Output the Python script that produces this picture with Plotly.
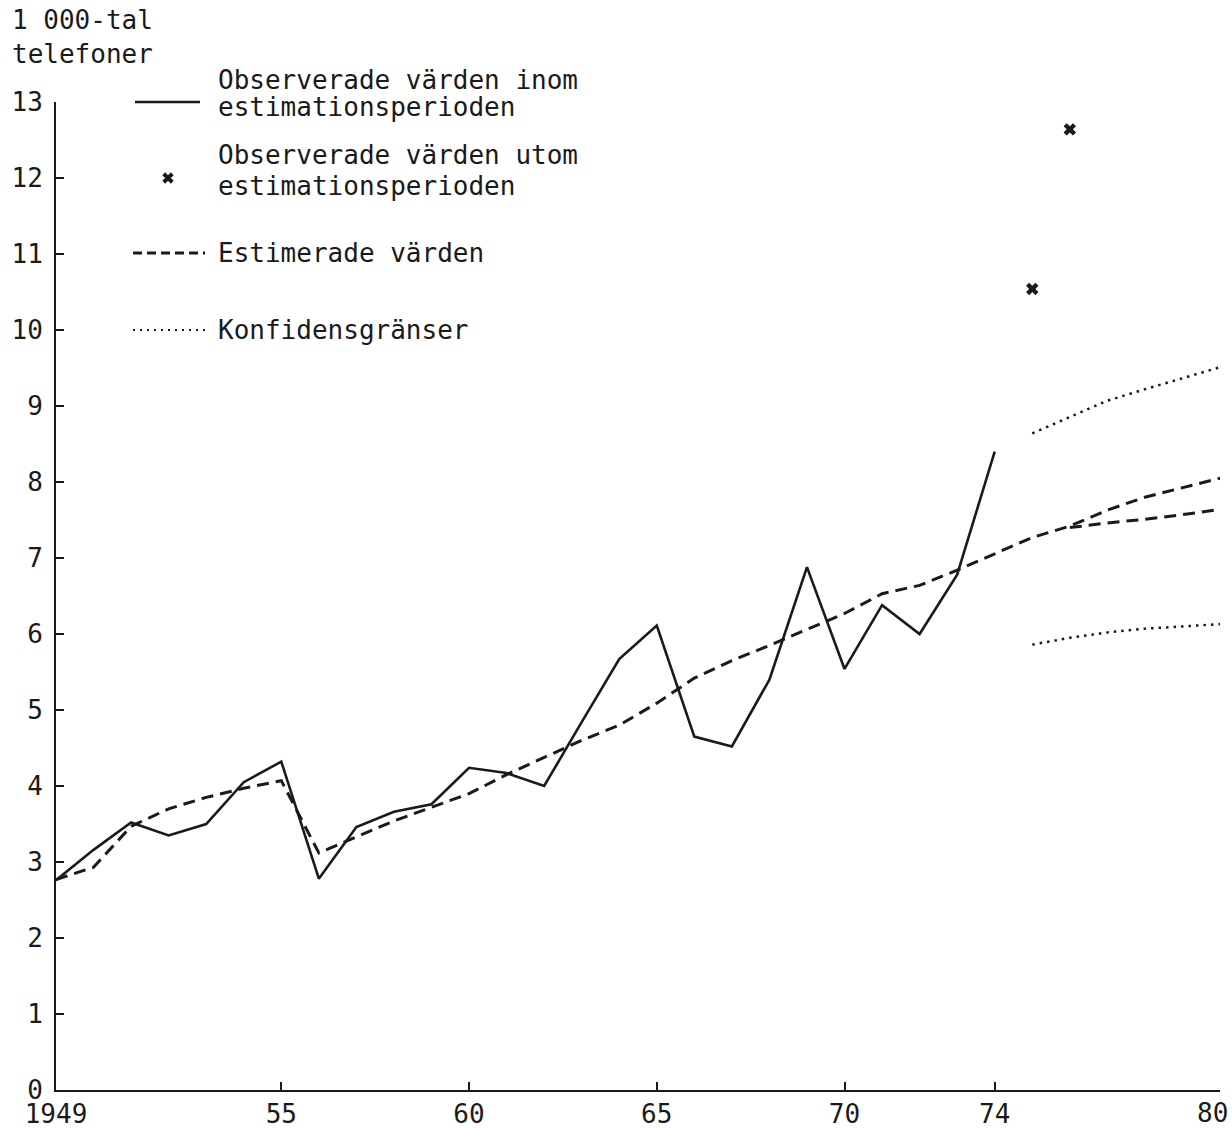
import plotly.graph_objects as go

# ---- data ----
obs_years = list(range(1949, 1975))
obs_values = [2.76, 3.16, 3.52, 3.35, 3.50, 4.05, 4.32, 2.78, 3.46, 3.66,
              3.76, 4.24, 4.17, 4.00, 4.84, 5.67, 6.11, 4.65, 4.52, 5.40,
              6.88, 5.54, 6.38, 6.00, 6.78, 8.40]

out_years = [1975, 1976]
out_values = [10.54, 12.64]

est_years = list(range(1949, 1981))
est_values = [2.77, 2.93, 3.47, 3.70, 3.85, 3.97, 4.07, 3.12, 3.33, 3.54,
              3.72, 3.90, 4.15, 4.38, 4.60, 4.80, 5.09, 5.42, 5.65, 5.85,
              6.06, 6.27, 6.53, 6.64, 6.84, 7.06, 7.27, 7.42, 7.63, 7.80,
              7.93, 8.05]

est_alt_years = [1976, 1977, 1978, 1979, 1980]
est_alt_values = [7.40, 7.46, 7.51, 7.57, 7.64]

conf_years = [1975, 1976, 1977, 1978, 1979, 1980]
conf_upper = [8.64, 8.86, 9.07, 9.22, 9.36, 9.51]
conf_lower = [5.86, 5.95, 6.02, 6.07, 6.10, 6.13]

x_tickvals = [1949, 1955, 1960, 1965, 1970, 1974, 1980]
x_ticktext = ["1949", "55", "60", "65", "70", "74", "80"]
y_tickvals = list(range(0, 14))

legend_labels = [
    ["Observerade värden inom", "estimationsperioden"],
    ["Observerade värden utom", "estimationsperioden"],
    ["Estimerade värden"],
    ["Konfidensgränser"],
]
y_title_lines = ["1 000-tal", "telefoner"]

FONT = "DejaVu Sans Mono"
FS = 26
INK = "#1a1a1a"

W, H = 1232, 1128
ML, MR, MT, MB = 56, 12, 102, 38
PW, PH = W - ML - MR, H - MT - MB


def px(x):
    return (x - ML) / PW


def py(y):
    return (H - MB - y) / PH


fig = go.Figure()

DASH = "12px,7px"
DOT = "2.5px,5px"

fig.add_trace(go.Scatter(x=est_years, y=est_values, mode="lines",
                         line=dict(color=INK, width=3, dash=DASH),
                         cliponaxis=False, showlegend=False))
fig.add_trace(go.Scatter(x=est_alt_years, y=est_alt_values, mode="lines",
                         line=dict(color=INK, width=3, dash=DASH),
                         cliponaxis=False, showlegend=False))
fig.add_trace(go.Scatter(x=obs_years, y=obs_values, mode="lines",
                         line=dict(color=INK, width=2.6),
                         cliponaxis=False, showlegend=False))
fig.add_trace(go.Scatter(x=conf_years, y=conf_upper, mode="lines",
                         line=dict(color=INK, width=2.5, dash=DOT),
                         cliponaxis=False, showlegend=False))
fig.add_trace(go.Scatter(x=conf_years, y=conf_lower, mode="lines",
                         line=dict(color=INK, width=2.5, dash=DOT),
                         cliponaxis=False, showlegend=False))
fig.add_trace(go.Scatter(x=out_years, y=out_values, mode="markers",
                         marker=dict(symbol="x", size=11, color=INK),
                         cliponaxis=False, showlegend=False))

# legend key: cross marker on an overlay axis in paper-like units
fig.add_trace(go.Scatter(x=[px(168)], y=[py(178)], mode="markers",
                         marker=dict(symbol="x", size=10, color=INK),
                         xaxis="x2", yaxis="y2", showlegend=False,
                         cliponaxis=False))

shapes = [
    dict(type="line", xref="paper", yref="paper", x0=px(135), x1=px(200),
         y0=py(102), y1=py(102), line=dict(color=INK, width=2.6)),
    dict(type="line", xref="paper", yref="paper", x0=px(133), x1=px(205),
         y0=py(253), y1=py(253), line=dict(color=INK, width=3, dash="9px,5px")),
    dict(type="line", xref="paper", yref="paper", x0=px(133), x1=px(205),
         y0=py(330), y1=py(330), line=dict(color=INK, width=2, dash="2px,5px")),
]

annotations = []
text_rows = [
    (legend_labels[0][0], 80), (legend_labels[0][1], 107),
    (legend_labels[1][0], 155), (legend_labels[1][1], 186),
    (legend_labels[2][0], 253),
    (legend_labels[3][0], 330),
]
for txt, yy in text_rows:
    annotations.append(dict(text=txt, xref="paper", yref="paper",
                            x=px(216), y=py(yy), xanchor="left",
                            yanchor="middle", showarrow=False,
                            font=dict(family=FONT, size=FS, color=INK)))
for txt, yy in zip(y_title_lines, [20, 54]):
    annotations.append(dict(text=txt, xref="paper", yref="paper",
                            x=px(10), y=py(yy), xanchor="left",
                            yanchor="middle", showarrow=False,
                            font=dict(family=FONT, size=FS, color=INK)))
# last x label kept inside the page edge (as in the reference)
annotations.append(dict(text=x_ticktext[-1], xref="paper", yref="paper",
                        x=px(1230), y=py(1113), xanchor="right",
                        yanchor="middle", showarrow=False,
                        font=dict(family=FONT, size=FS, color=INK)))

axis_common = dict(showline=True, linecolor=INK, linewidth=2,
                   ticks="inside", ticklen=8, tickwidth=2, tickcolor=INK,
                   showgrid=False, zeroline=False, automargin=False,
                   ticklabeloverflow="allow",
                   tickfont=dict(family=FONT, size=FS, color=INK))

fig.update_layout(
    width=W, height=H,
    margin=dict(l=ML, r=MR, t=MT, b=MB),
    paper_bgcolor="white", plot_bgcolor="white",
    showlegend=False,
    xaxis=dict(range=[1949, 1980], tickvals=x_tickvals,
               ticktext=x_ticktext[:-1] + [""],
               ticklabelstandoff=0, **axis_common),
    yaxis=dict(range=[0, 13], tickvals=y_tickvals, ticklabelstandoff=6,
               **axis_common),
    xaxis2=dict(overlaying="x", range=[0, 1], visible=False),
    yaxis2=dict(overlaying="y", range=[0, 1], visible=False),
    shapes=shapes,
    annotations=annotations,
)

fig.write_html(
    "out.html",
    config={"displayModeBar": False},
    post_script="document.body.style.margin='0';"
                "document.body.style.overflow='hidden';",
)
